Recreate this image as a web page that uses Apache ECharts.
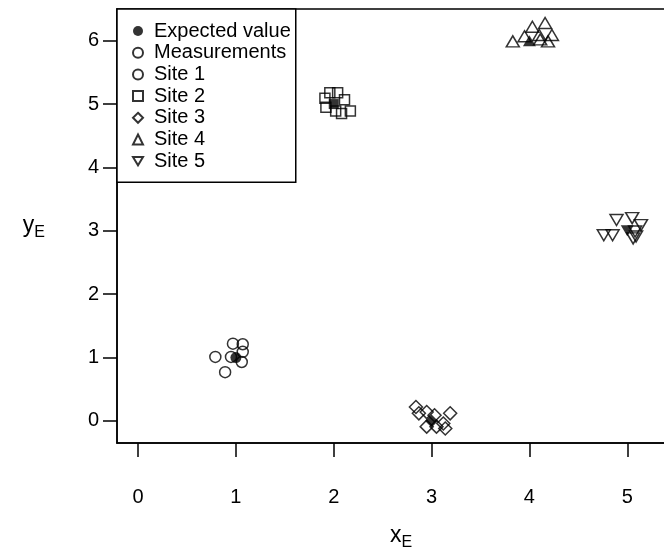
<!DOCTYPE html>
<html>
<head>
<meta charset="utf-8">
<script src="https://cdn.jsdelivr.net/npm/echarts@6/dist/echarts.min.js"></script>
<style>
  html, body { margin: 0; background: #fff; }
  #chart { width: 664px; height: 551px; }
</style>
</head>
<body>
<div id="chart"></div>
<script>
// tick positions
const xTicks = [0, 1, 2, 3, 4, 5]
const yTicks = [0, 1, 2, 3, 4, 5, 6]

const site1 = [[0.79, 1.01], [0.89, 0.77], [0.97, 1.22], [1.07, 1.21], [0.95, 1.01], [1.06, 0.93], [1.07, 1.09]]
const site2 = [[1.91, 5.09], [1.96, 5.18], [2.04, 5.18], [1.92, 4.95], [2.11, 5.07], [2.02, 4.89], [2.08, 4.85], [2.17, 4.89]]
const site3 = [[2.84, 0.22], [2.87, 0.12], [2.95, 0.14], [3.03, 0.09], [2.95, -0.09], [3.05, -0.09], [3.12, -0.04], [3.19, 0.12], [3.14, -0.12]]
const site4 = [[3.83, 5.99], [3.95, 6.07], [4.03, 6.22], [4.16, 6.28], [4.10, 6.09], [4.23, 6.09], [4.19, 5.99], [4.11, 6.02]]
const site5 = [[4.76, 2.93], [4.85, 2.93], [4.89, 3.17], [5.05, 3.20], [5.14, 3.09], [5.08, 2.99], [5.09, 2.91], [5.06, 2.88]]

// expected value of each site
const expected = [[1, 1], [2, 5], [3, 0], [4, 6], [5, 3]]

const siteNames = ['Site 1', 'Site 2', 'Site 3', 'Site 4', 'Site 5']
const siteData = [site1, site2, site3, site4, site5]

const downTri = 'path://M0,0L12,0L6,10Z'
const siteSymbols = ['circle', 'rect', 'diamond', 'triangle', downTri]
const siteSizes = [11, 10, 13, [13, 11], [13, 11]]

const FONT = "'Liberation Sans', Arial, Helvetica, sans-serif"

const hollow = {
  color: 'rgba(0,0,0,0)',
  borderColor: '#000',
  borderWidth: 1.5
}

const chart = echarts.init(document.getElementById('chart'))

const series = siteNames.map((name, i) => ({
  name: name,
  type: 'scatter',
  symbol: siteSymbols[i],
  symbolSize: siteSizes[i],
  itemStyle: hollow,
  data: siteData[i],
  z: 2
}))

series.unshift({
  name: 'Measurements',
  type: 'scatter',
  symbol: 'circle',
  symbolSize: 11,
  itemStyle: hollow,
  data: []
})

series.push({
  name: 'Expected value',
  type: 'scatter',
  itemStyle: { color: '#000' },
  data: expected.map((p, i) => ({
    value: p,
    symbol: siteSymbols[i],
    symbolSize: siteSizes[i]
  })),
  z: 3
})

const legendIcons = ['circle', 'circle', 'circle', 'rect', 'diamond', 'triangle', downTri]
const legendNames = ['Expected value', 'Measurements'].concat(siteNames)

const option = {
  animation: false,
  textStyle: { fontFamily: FONT },
  grid: {
    left: 117,
    top: 9,
    right: -21,
    bottom: 108,
    outerBoundsMode: 'none',
    containLabel: false,
    show: true,
    borderColor: '#000',
    borderWidth: 1.5,
    backgroundColor: 'transparent'
  },
  legend: {
    orient: 'vertical',
    left: 117,
    top: 9,
    padding: [12, 5, 11, 15],
    itemWidth: 10,
    itemHeight: 10,
    itemGap: 1.7,
    selectedMode: false,
    backgroundColor: '#fff',
    borderColor: '#000',
    borderWidth: 1.5,
    textStyle: {
      fontFamily: FONT,
      fontSize: 20,
      lineHeight: 20,
      color: '#000',
      padding: [0, 0, 0, 6]
    },
    data: legendNames.map((n, i) => ({ name: n, icon: legendIcons[i] }))
  },
  xAxis: {
    type: 'value',
    min: -0.215,
    max: 5.59,
    name: '{m|x}{s|E}',
    nameLocation: 'middle',
    nameGap: 78,
    nameTextStyle: {
      rich: {
        m: { fontFamily: FONT, fontSize: 23, color: '#000' },
        s: { fontFamily: FONT, fontSize: 16, color: '#000', padding: [14, 0, 0, 0] }
      }
    },
    axisLine: { show: true, onZero: false, lineStyle: { color: '#000', width: 1.5 } },
    axisTick: {
      show: true,
      customValues: xTicks,
      length: 14,
      lineStyle: { color: '#000', width: 1.5 }
    },
    axisLabel: {
      customValues: xTicks,
      fontFamily: FONT,
      fontSize: 20,
      color: '#000',
      margin: 44
    },
    splitLine: { show: false }
  },
  yAxis: {
    type: 'value',
    min: -0.348,
    max: 6.5,
    name: '{m|y}{s|E}',
    nameLocation: 'middle',
    nameRotate: 0,
    nameGap: 72,
    nameTextStyle: {
      rich: {
        m: { fontFamily: FONT, fontSize: 23, color: '#000' },
        s: { fontFamily: FONT, fontSize: 16, color: '#000', padding: [14, 0, 0, 0] }
      }
    },
    axisLine: { show: true, onZero: false, lineStyle: { color: '#000', width: 1.5 } },
    axisTick: {
      show: true,
      customValues: yTicks,
      length: 14,
      lineStyle: { color: '#000', width: 1.5 }
    },
    axisLabel: {
      customValues: yTicks,
      fontFamily: FONT,
      fontSize: 20,
      color: '#000',
      margin: 18
    },
    splitLine: { show: false }
  },
  series: series
}

chart.setOption(option)
</script>
</body>
</html>
